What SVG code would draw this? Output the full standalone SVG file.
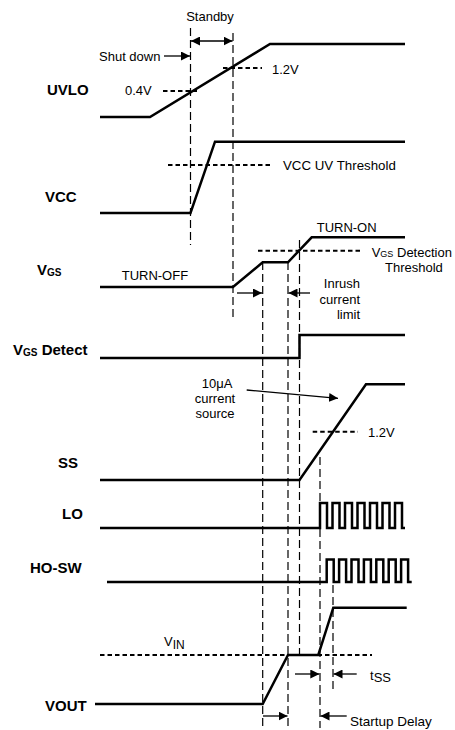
<svg xmlns="http://www.w3.org/2000/svg" width="455" height="730" viewBox="0 0 455 730">
<defs>
<marker id="ah" markerUnits="userSpaceOnUse" markerWidth="9" markerHeight="9" viewBox="0 0 10 10" refX="10" refY="5" orient="auto">
<path d="M0,0 L10,5 L0,10 z" fill="#000"/>
</marker>
<marker id="ahs" markerUnits="userSpaceOnUse" markerWidth="9" markerHeight="9" viewBox="0 0 10 10" refX="0" refY="5" orient="auto">
<path d="M10,0 L0,5 L10,10 z" fill="#000"/>
</marker>
</defs>
<style>
.sig{fill:none;stroke:#000;stroke-width:2.5;stroke-linejoin:miter}
.vd{fill:none;stroke:#000;stroke-width:1.2;stroke-dasharray:8,4}
.th{fill:none;stroke:#000;stroke-width:2;stroke-dasharray:4.5,3}
.ar{fill:none;stroke:#000;stroke-width:1.3}
.lbl{font-family:"Liberation Sans",Arial,sans-serif;font-weight:bold;font-size:15px;fill:#000}
.t{font-family:"Liberation Sans",Arial,sans-serif;font-size:13px;fill:#000}
.ts{font-family:"Liberation Sans",Arial,sans-serif;font-size:13.5px;fill:#000}
</style>
<rect width="455" height="730" fill="#fff"/>

<g id="connectors">
<line class="vd" x1="190.5" y1="28" x2="190.5" y2="245"/>
<line class="vd" x1="233" y1="33" x2="233" y2="318"/>
<line class="vd" x1="262.7" y1="262" x2="262.7" y2="728"/>
<line class="vd" x1="288" y1="262" x2="288" y2="728"/>
<line class="vd" x1="299.5" y1="240" x2="299.5" y2="657"/>
<line class="vd" x1="320" y1="457" x2="320" y2="728"/>
<line class="vd" x1="333" y1="585" x2="333" y2="690"/>
<line class="ar" x1="191" y1="41" x2="232.5" y2="41" marker-start="url(#ahs)" marker-end="url(#ah)"/>
<line class="ar" x1="164" y1="56" x2="190" y2="56" marker-end="url(#ah)"/>
<line class="ar" x1="237" y1="293" x2="262" y2="293" marker-end="url(#ah)"/>
<line class="ar" x1="310" y1="293" x2="288.5" y2="293" marker-end="url(#ah)"/>
<line class="ar" x1="246.7" y1="390" x2="338" y2="398.3" marker-end="url(#ah)"/>
<line class="ar" x1="295" y1="674" x2="319.3" y2="674" marker-end="url(#ah)"/>
<line class="ar" x1="356.7" y1="674" x2="333.5" y2="674" marker-end="url(#ah)"/>
<line class="ar" x1="263" y1="716" x2="287.5" y2="716" marker-end="url(#ah)"/>
<line class="ar" x1="346.7" y1="716" x2="320.5" y2="716" marker-end="url(#ah)"/>
</g>

<g id="uvlo">
<text class="lbl" x="47" y="95">UVLO</text>
<path class="sig" d="M100,117 H150 L270,44 H405"/>
<line class="th" x1="163" y1="91" x2="197" y2="91"/>
<line class="th" x1="223" y1="68" x2="262" y2="68"/>
<text class="t" x="125" y="95">0.4V</text>
<text class="t" x="272" y="74">1.2V</text>
<text class="t" x="210" y="21" text-anchor="middle">Standby</text>
<text class="t" x="99" y="61">Shut down</text>
</g>

<g id="vcc">
<text class="lbl" x="45" y="201.5">VCC</text>
<path class="sig" d="M100,213 H190.5 L215,141.7 H405"/>
<line class="th" x1="168" y1="165" x2="270" y2="165"/>
<text class="t" x="283" y="170" style="font-size:13.3px">VCC UV Threshold</text>
</g>

<g id="vgs">
<text class="lbl" x="37" y="275">V<tspan font-size="10" dy="1">GS</tspan></text>
<path class="sig" d="M100,287 H233 L262.7,262.3 H288 L311.7,237.3 H405"/>
<line class="th" x1="258" y1="250.7" x2="362" y2="250.7"/>
<text class="t" x="316.7" y="231.7">TURN-ON</text>
<text class="t" x="121.7" y="280">TURN-OFF</text>
<text class="t" x="371.7" y="256.7">V<tspan font-size="9">GS</tspan> Detection</text>
<text class="t" x="385" y="271.7">Threshold</text>
<text class="t" x="360" y="288" text-anchor="end">Inrush</text>
<text class="t" x="360" y="303.5" text-anchor="end">current</text>
<text class="t" x="360" y="318.5" text-anchor="end">limit</text>
</g>

<g id="vgs-detect">
<text class="lbl" x="13" y="355">V<tspan font-size="10" dy="1">GS</tspan><tspan dy="-1"> Detect</tspan></text>
<path class="sig" d="M100,358 H299.5 V335 H405"/>
</g>

<g id="ss">
<text class="lbl" x="58" y="468">SS</text>
<path class="sig" d="M100,480 H299.5 L366,384.3 H405"/>
<line class="th" x1="312.7" y1="431.7" x2="358" y2="431.7"/>
<text class="t" x="368" y="436.5">1.2V</text>
<text class="t" x="217" y="388" text-anchor="middle">10μA</text>
<text class="t" x="215" y="403" text-anchor="middle">current</text>
<text class="t" x="215" y="418" text-anchor="middle">source</text>
</g>

<g id="lo">
<text class="lbl" x="62" y="519">LO</text>
<path class="sig" d="M100,528 H320 V503 H327 V528 H332.5 V503 H339.5 V528 H345 V503 H352 V528 H357.5 V503 H364.5 V528 H370 V503 H377 V528 H382.5 V503 H389.5 V528 H395 V503 H402 V528 H405"/>
</g>

<g id="ho-sw">
<text class="lbl" x="30" y="573">HO-SW</text>
<path class="sig" d="M107,582 H326.7 V559.5 H333.7 V582 H339.1 V559.5 H346.1 V582 H351.5 V559.5 H358.5 V582 H363.9 V559.5 H370.9 V582 H376.3 V559.5 H383.3 V582 H388.7 V559.5 H395.7 V582 H401.1 V559.5 H408.1 V582 H411.7"/>
</g>

<g id="vout">
<text class="lbl" x="45" y="711">VOUT</text>
<path class="sig" d="M95,704 H262.7 L288,655 H318.3 L333.3,607.7 H406.7"/>
<line class="th" x1="100" y1="655" x2="372" y2="655"/>
<text class="t" x="164" y="646">V<tspan font-size="12" dy="3">IN</tspan></text>
<text class="t" x="370" y="680">t<tspan font-size="13" dy="2">SS</tspan></text>
<text class="ts" x="350" y="726">Startup Delay</text>
</g>
</svg>
